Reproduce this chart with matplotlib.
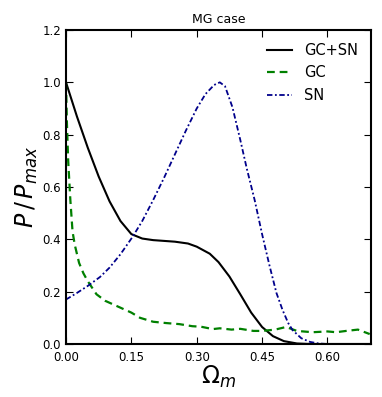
import matplotlib
matplotlib.use("Agg")
import matplotlib.pyplot as plt

# values
om_both = [0.0, 0.025, 0.05, 0.075, 0.1, 0.125, 0.15, 0.175, 0.2, 0.225, 0.25, 0.28,
           0.3, 0.33, 0.35, 0.375, 0.4, 0.425, 0.45, 0.475, 0.5, 0.53, 0.56, 0.6, 0.7]
p_both = [1.0, 0.87, 0.75, 0.64, 0.545, 0.47, 0.42, 0.403, 0.397, 0.394, 0.391, 0.384,
          0.372, 0.345, 0.313, 0.258, 0.19, 0.12, 0.065, 0.03, 0.011, 0.002, 0.0, 0.0, 0.0]

om_gc = [0.0, 0.002, 0.005, 0.01, 0.015, 0.02, 0.03, 0.04, 0.05, 0.07, 0.09, 0.11,
         0.13, 0.15, 0.17, 0.2, 0.23, 0.26, 0.29, 0.31, 0.337, 0.353, 0.38, 0.4,
         0.43, 0.45, 0.48, 0.505, 0.53, 0.566, 0.6, 0.62, 0.643, 0.67, 0.697]
p_gc = [1.0, 0.85, 0.7, 0.55, 0.43, 0.38, 0.31, 0.27, 0.24, 0.19, 0.165, 0.15,
        0.135, 0.12, 0.10, 0.085, 0.08, 0.076, 0.068, 0.066, 0.057, 0.06, 0.055, 0.058,
        0.05, 0.05, 0.055, 0.065, 0.05, 0.045, 0.048, 0.045, 0.05, 0.055, 0.038]

om_sn = [0.0, 0.025, 0.05, 0.078, 0.1, 0.125, 0.153, 0.175, 0.2, 0.225, 0.25, 0.275,
         0.3, 0.32, 0.34, 0.353, 0.365, 0.382, 0.4, 0.415, 0.433, 0.45, 0.467, 0.483,
         0.497, 0.51, 0.52, 0.54, 0.56, 0.58, 0.6, 0.7]
p_sn = [0.17, 0.195, 0.222, 0.256, 0.292, 0.343, 0.41, 0.47, 0.55, 0.635, 0.725, 0.815,
        0.90, 0.955, 0.99, 1.0, 0.985, 0.905, 0.78, 0.67, 0.55, 0.42, 0.30, 0.195,
        0.13, 0.08, 0.053, 0.022, 0.008, 0.002, 0.0, 0.0]

xticks = [0.0, 0.15, 0.30, 0.45, 0.60]
yticks = [0.0, 0.2, 0.4, 0.6, 0.8, 1.0, 1.2]

fig = plt.figure(figsize=(3.82, 3.97), dpi=100)
ax = fig.add_axes([66 / 382, 1 - 344 / 397, 305 / 382, 314 / 397])

ax.plot(om_both, p_both, color="black", lw=1.5, ls="-", label="GC+SN")
ax.plot(om_gc, p_gc, color="green", lw=1.6, ls=(0, (3.5, 2.2)), label="GC")
ax.plot(om_sn, p_sn, color="darkblue", lw=1.3, ls=(0, (3, 1.4, 1, 1.4)), label="SN")

ax.set_xlim(0, 0.7)
ax.set_ylim(0, 1.2)
ax.set_xticks(xticks)
ax.set_xticklabels(["%.2f" % t for t in xticks])
ax.set_yticks(yticks)
ax.set_yticklabels(["%.1f" % t for t in yticks])
ax.tick_params(direction="in", top=True, right=True, length=5, labelsize=8.5)
ax.tick_params(axis="x", pad=5)
for s in ax.spines.values():
    s.set_linewidth(1.5)

ax.set_xlabel(r"$\Omega_m$", fontsize=17, labelpad=0)
ax.set_ylabel(r"$P\,/\,P_{max}$", fontsize=17, labelpad=2)
ax.set_title("MG case", fontsize=9, pad=5)
ax.legend(frameon=False, fontsize=10.5, handlelength=1.7, loc="upper right")

fig.savefig("out.png", dpi=100)
